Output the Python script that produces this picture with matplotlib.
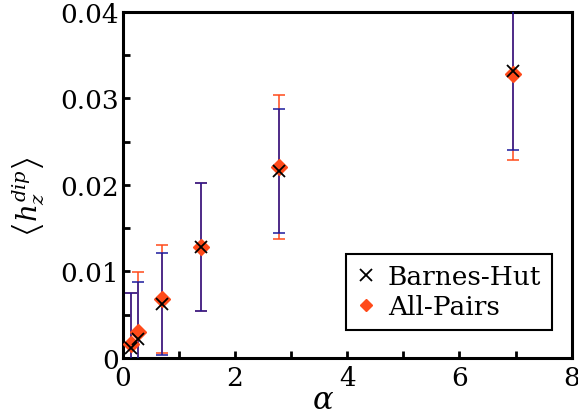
import matplotlib
matplotlib.use("Agg")
import matplotlib.pyplot as plt
from matplotlib.lines import Line2D
from matplotlib.ticker import FixedLocator, MultipleLocator

alpha = [0.139, 0.278, 0.695, 1.39, 2.78, 6.95]
bh_val = [0.0012, 0.0022, 0.0062, 0.0128, 0.0216, 0.0331]
bh_err = [0.0063, 0.0066, 0.0059, 0.0074, 0.0072, 0.0091]
ap_val = [0.0016, 0.0030, 0.0068, 0.0128, 0.0221, 0.0328]
ap_err = [0.0059, 0.0069, 0.0062, 0.0074, 0.0083, 0.0099]
xticks = [0, 2, 4, 6, 8]
xticklabels = ["0", "2", "4", "6", "8"]
yticks = [0, 0.01, 0.02, 0.03, 0.04]
yticklabels = ["0", "0.01", "0.02", "0.03", "0.04"]

plt.rcParams['font.family'] = ['DejaVu Serif']
plt.rcParams['mathtext.fontset'] = 'dejavuserif'

ap_color = '#ff4a1a'
bh_color = '#1c1a9c'

fig = plt.figure(figsize=(5.78, 4.14), dpi=100)
ax = fig.add_axes([0.2123, 0.1329, 0.989 - 0.2123, 0.9693 - 0.1329])

ax.errorbar(alpha, ap_val, yerr=ap_err, fmt='none', ecolor=ap_color,
            elinewidth=1.1, capsize=4, capthick=1.1, zorder=2)
ax.errorbar(alpha, bh_val, yerr=bh_err, fmt='none', ecolor=bh_color,
            elinewidth=1.1, capsize=4, capthick=1.1, zorder=3)
ax.plot(alpha, ap_val, linestyle='none', marker='D', ms=8.5, color=ap_color,
        mec=ap_color, zorder=4)
ax.plot(alpha, bh_val, linestyle='none', marker='x', ms=9, mew=1.3,
        color='black', zorder=5)

ax.set_xlim(0, 8)
ax.set_ylim(0, 0.04)
ax.xaxis.set_major_locator(FixedLocator(xticks))
ax.set_xticklabels(xticklabels)
ax.xaxis.set_minor_locator(MultipleLocator(1))
ax.yaxis.set_major_locator(FixedLocator(yticks))
ax.set_yticklabels(yticklabels)
ax.yaxis.set_minor_locator(MultipleLocator(0.005))

ax.tick_params(which='both', direction='in', length=5, width=2,
               top=False, right=False, labelsize=19)
ax.tick_params(axis='x', pad=5)
ax.tick_params(axis='y', pad=3)
for s in ax.spines.values():
    s.set_linewidth(2.2)

ax.set_xlabel(r'$\alpha$', fontsize=22)
ax.xaxis.set_label_coords(0.446, -0.075)
ax.set_ylabel(r'$\left\langle h_z^{dip} \right\rangle$', fontsize=20)
ax.yaxis.set_label_coords(-0.168, 0.468)

handles = [Line2D([], [], linestyle='none', marker='x', ms=9, mew=1.3, color='black'),
           Line2D([], [], linestyle='none', marker='D', ms=6.5, color=ap_color)]
leg = ax.legend(handles, ['Barnes-Hut', 'All-Pairs'], loc='lower right',
                bbox_to_anchor=(0.956, 0.081), borderaxespad=0, fontsize=19,
                fancybox=False, framealpha=1, edgecolor='black',
                handlelength=0.7, handletextpad=0.5, borderpad=0.4,
                labelspacing=0.2)
leg.get_frame().set_linewidth(1.5)

fig.savefig('out.png', dpi=100)
